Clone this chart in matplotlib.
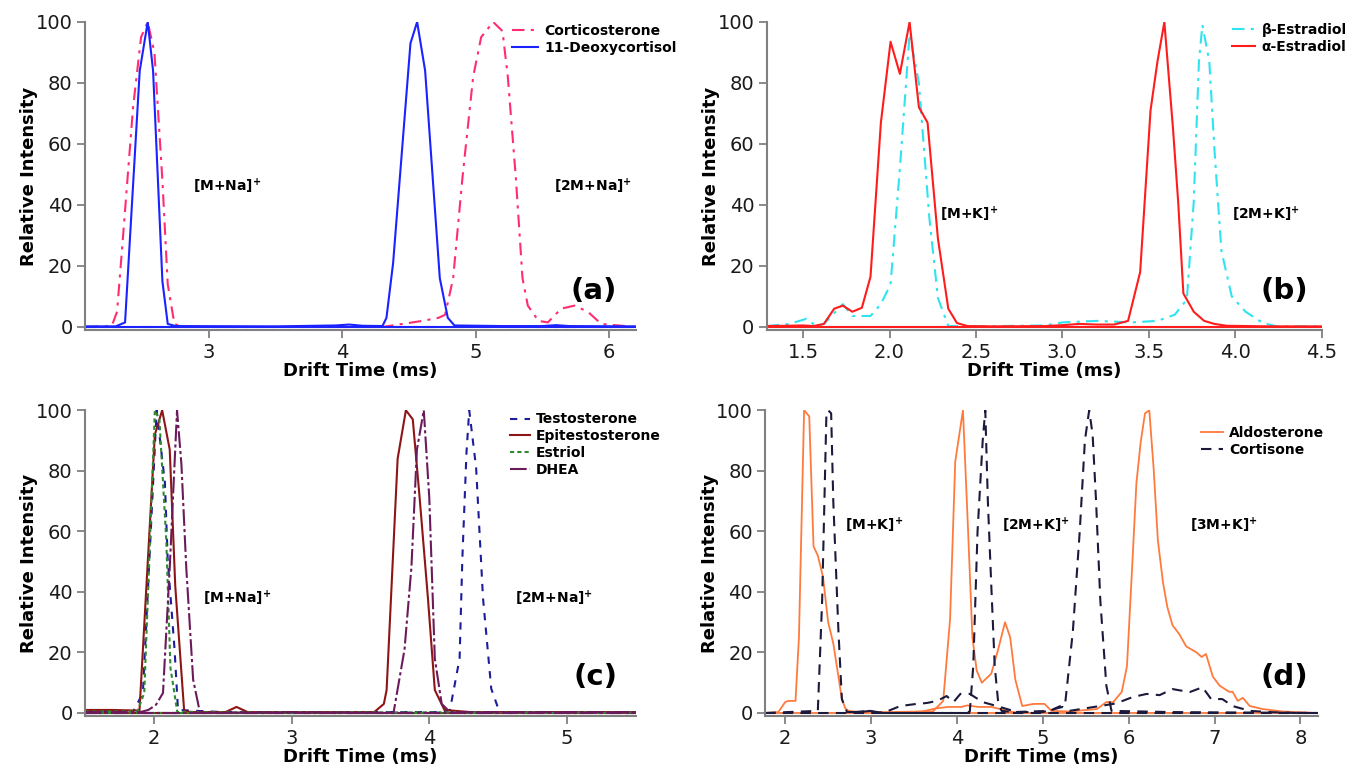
"""Ion mobility drift-time spectra of steroid isomers, four panels."""

import matplotlib
matplotlib.use('Agg')
import matplotlib.pyplot as plt

plt.rcParams['font.family'] = ['DejaVu Sans']
plt.rcParams['mathtext.fontset'] = 'dejavusans'

# ---------------- panel (a) ----------------
cortico_t = [2.08, 2.27, 2.31, 2.35, 2.43, 2.49, 2.54, 2.59, 2.65, 2.69, 2.74, 2.80, 3.5, 4.30, 4.45,
             4.60, 4.72, 4.77, 4.83, 4.90, 4.98, 5.04, 5.13, 5.20, 5.24, 5.30, 5.35, 5.39, 5.47, 5.54,
             5.64, 5.74, 5.84, 5.94, 6.2]
cortico_i = [0, 0.3, 5, 27, 72, 95, 100, 90, 48, 14, 1, 0, 0, 0, 1,
             2, 3, 4, 16, 49, 82, 95, 100, 97, 82, 49, 16, 7, 2, 1.5,
             6, 7, 5, 1, 0]
deoxy_t = [2.08, 2.30, 2.37, 2.48, 2.54, 2.58, 2.65, 2.69, 2.75, 3.5, 3.95, 4.05, 4.15, 4.30, 4.33,
           4.38, 4.51, 4.56, 4.62, 4.73, 4.79, 4.84, 5.2, 5.5, 5.6, 5.7, 6.2]
deoxy_i = [0.2, 0.2, 1.5, 84, 100, 84, 15, 1, 0.3, 0.2, 0.5, 0.8, 0.4, 0.3, 3,
           21, 93, 100, 84, 16, 3, 0.5, 0.3, 0.3, 0.6, 0.3, 0.2]

# ---------------- panel (b) ----------------
beta_t = [1.29, 1.42, 1.52, 1.575, 1.62, 1.73, 1.785, 1.89, 1.95, 2.006, 2.06, 2.116, 2.17, 2.23, 2.28,
          2.34, 2.5, 2.9, 3.0, 3.2, 3.4, 3.55, 3.65, 3.72, 3.76, 3.79, 3.81, 3.85, 3.88, 3.92,
          3.98, 4.06, 4.16, 4.24, 4.5]
beta_i = [0.3, 1, 2.7, 0.3, 1, 7.5, 3.6, 3.6, 7.5, 14, 52, 96, 80, 36, 9.5,
          0.3, 0.2, 0.5, 1.5, 2, 1.5, 2, 4, 9, 41, 87, 99, 87, 58, 25,
          10, 5, 1.3, 0.2, 0.2]
alpha_t = [1.29, 1.50, 1.56, 1.62, 1.68, 1.73, 1.785, 1.84, 1.89, 1.95, 2.006, 2.06, 2.116, 2.17, 2.22,
           2.28, 2.34, 2.39, 2.45, 2.6, 2.9, 3.0, 3.1, 3.2, 3.3, 3.38, 3.45, 3.51, 3.55, 3.59,
           3.64, 3.67, 3.70, 3.76, 3.82, 3.88, 3.95, 4.2, 4.5]
alpha_i = [0.3, 0.5, 0.3, 1, 6, 7, 5, 6.3, 16.5, 67, 93.5, 83, 100, 72, 67,
           29, 6, 1.3, 0.3, 0.2, 0.3, 0.6, 1, 0.8, 0.8, 2, 18, 71, 87, 100,
           65, 41, 11, 5, 2, 1, 0.4, 0.2, 0.2]

# ---------------- panel (c) ----------------
testo_t = [1.5, 1.85, 1.92, 2.02, 2.08, 2.10, 2.15, 2.175, 2.5, 3.5, 4.10, 4.15, 4.22, 4.24, 4.27,
           4.29, 4.34, 4.39, 4.45, 4.51, 5.5]
testo_i = [0.5, 0.5, 6.6, 100, 76, 51, 21, 1, 0.3, 0.3, 0.3, 1, 18, 51, 86,
           100, 81, 38, 8, 0.3, 0.3]
epi_t = [1.5, 1.7, 1.88, 1.895, 2.007, 2.06, 2.115, 2.155, 2.22, 2.3, 2.52, 2.60, 2.68, 3.0, 3.6,
         3.67, 3.69, 3.77, 3.83, 3.88, 3.93, 3.99, 4.04, 4.11, 4.3, 5.5]
epi_i = [1, 1, 0.8, 0.5, 92, 100, 87, 42, 0.5, 0.3, 0.3, 2, 0.3, 0.3, 0.3,
         3, 7.6, 84, 100, 97, 71, 38, 7.6, 1, 0.3, 0.3]
estriol_t = [1.5, 1.88, 1.93, 2.007, 2.04, 2.09, 2.12, 2.17, 2.5, 5.5]
estriol_i = [0.5, 0.5, 6.6, 100, 97, 57, 15, 0.3, 0.2, 0.2]
dhea_t = [1.5, 1.9, 1.96, 2.015, 2.066, 2.115, 2.168, 2.20, 2.235, 2.285, 2.335, 3.0, 3.74, 3.82, 3.87,
          3.91, 3.96, 4.00, 4.04, 4.09, 4.15, 5.5]
dhea_i = [0.3, 0.3, 1, 2.7, 6.6, 48, 100, 82, 48, 11, 0, 0.3, 0, 21, 48,
          87, 100, 71, 18, 3, 0.3, 0.3]

# ---------------- panel (d) ----------------
aldo_t = [1.77, 1.92, 2.0, 2.035, 2.12, 2.16, 2.22, 2.28, 2.33, 2.38, 2.44, 2.50, 2.56, 2.66, 2.70,
          2.74, 2.85, 3.2, 3.6, 3.72, 3.84, 3.92, 3.98, 4.07, 4.13, 4.18, 4.23, 4.29, 4.40, 4.48,
          4.56, 4.62, 4.68, 4.76, 4.89, 5.02, 5.10, 5.31, 5.63, 5.74, 5.82, 5.92, 5.98, 6.04, 6.09,
          6.14, 6.19, 6.24, 6.29, 6.34, 6.40, 6.45, 6.51, 6.59, 6.67, 6.79, 6.85, 6.90, 6.98, 7.06,
          7.17, 7.21, 7.27, 7.33, 7.41, 7.56, 7.79, 8.19]
aldo_i = [0, 0.3, 3.6, 4, 4, 25, 100, 98, 55, 52, 45, 30, 23, 4.6, 1.5,
          0.7, 0.3, 0.3, 0.5, 0.5, 4, 31, 83, 100, 60, 25, 14, 10, 13, 21,
          30, 25, 11, 2.3, 3, 3, 0.7, 0.5, 1.3, 3.6, 3.6, 7, 15.5, 48, 76,
          89.5, 99, 100, 81, 57, 43, 35, 29, 26, 22, 20, 18.5, 19.5, 12, 9,
          7, 7, 4, 5, 2.3, 1.3, 0.5, 0]
aldo_low_t = [3.3, 3.6, 3.75, 3.9, 4.05, 4.12, 4.25, 4.40, 4.55, 4.65, 4.8]
aldo_low_i = [0, 0.5, 1.5, 2, 2, 2.5, 2, 2, 1, 0.3, 0]
cort_t = [1.77, 2.38, 2.43, 2.48, 2.50, 2.535, 2.56, 2.62, 2.66, 2.72, 2.87, 2.99, 3.14, 3.6, 4.10,
          4.15, 4.19, 4.24, 4.30, 4.33, 4.36, 4.40, 4.44, 4.48, 4.52, 4.65, 5.08, 5.26, 5.35, 5.43,
          5.49, 5.54, 5.58, 5.62, 5.67, 5.74, 5.80, 6.5, 8.2]
cort_i = [0, 0.7, 37, 99, 100, 99, 70, 27, 4.6, 0.3, 0.3, 0.7, 0, 0, 0,
          0.5, 15.5, 60, 90, 100, 70, 42, 15.5, 3.6, 0.7, 0.3, 0.7, 3, 27, 60,
          90, 100, 92, 70, 37, 9, 0.7, 0.3, 0]
cort_low_t = [2.8, 2.99, 3.14, 3.34, 3.53, 3.65, 3.77, 3.88, 3.96, 4.04, 4.15, 4.30, 4.50, 4.70, 5.0,
              5.23, 5.31, 5.82, 5.93, 6.05, 6.21, 6.36, 6.51, 6.71, 6.86, 6.96, 7.09, 7.21, 7.41, 7.64,
              7.95, 8.2]
cort_low_i = [0.3, 0.7, 0, 2.3, 3, 3.3, 4, 5.6, 3.6, 6.3, 6.3, 3.6, 2, 0.3, 0.3,
              2, 0.7, 3, 4, 5.3, 6.3, 5.9, 7.9, 6.9, 8.5, 4.6, 4.6, 2.3, 0.7, 0.3,
              0, 0]

Y_TICKS = [0, 20, 40, 60, 80, 100]
SPINE = '#808080'


def style_axes(ax, xlim, xticks, xticklabels=None):
    ax.set_xlim(*xlim)
    ax.set_ylim(-1, 100)
    ax.set_xticks(xticks)
    if xticklabels is not None:
        ax.set_xticklabels(xticklabels)
    ax.set_yticks(Y_TICKS)
    for side in ('top', 'right'):
        ax.spines[side].set_visible(False)
    for side in ('left', 'bottom'):
        ax.spines[side].set_color(SPINE)
        ax.spines[side].set_linewidth(1.5)
    ax.tick_params(direction='out', length=6, width=1.3, color=SPINE, labelsize=14,
                   labelcolor='#1a1a1a', pad=3)
    ax.set_xlabel('Drift Time (ms)', fontsize=13, fontweight='bold', labelpad=0)
    ax.set_ylabel('Relative Intensity', fontsize=13, fontweight='bold')
    ax.yaxis.set_label_coords(-0.085, 0.5)


def trace(ax, t, i, color, lw=1.5, dashes=None, label=None):
    kw = dict(color=color, lw=lw, label=label)
    if dashes is not None:
        kw['dashes'] = dashes
    ax.plot(t, i, **kw)
    base = dict(color=color, lw=lw)
    if dashes is not None:
        base['dashes'] = dashes
    ax.axhline(0, **base)


def ion(ax, x, y, name):
    ax.text(x, y, name + r'$^{\mathbf{+}}$', fontsize=10, fontweight='bold', ha='left', va='center')


def panel_tag(ax, tag, x):
    ax.text(x, 0.127, tag, transform=ax.transAxes, fontsize=21, fontweight='bold',
            ha='right', va='center')


def legend(ax, anchor, hl):
    ax.legend(loc='upper left', bbox_to_anchor=anchor, frameon=False, borderpad=0,
              borderaxespad=0, handlelength=hl, handletextpad=0.45, labelspacing=0.2,
              prop={'weight': 'bold', 'size': 10})


fig = plt.figure(figsize=(13.5, 7.76), dpi=100)
ax_a = fig.add_axes([0.063, 0.5747, 0.408, 0.397])
ax_b = fig.add_axes([0.568, 0.5747, 0.411, 0.397])
ax_c = fig.add_axes([0.063, 0.0773, 0.408, 0.394])
ax_d = fig.add_axes([0.567, 0.0773, 0.409, 0.394])

# (a)
trace(ax_a, cortico_t, cortico_i, '#ff2d6f', dashes=(6, 3, 1.5, 3), label='Corticosterone')
trace(ax_a, deoxy_t, deoxy_i, '#1a22ff', label='11-Deoxycortisol')
style_axes(ax_a, (2.07, 6.2), [3, 4, 5, 6])
ion(ax_a, 2.88, 46, '[M+Na]')
ion(ax_a, 5.59, 46, '[2M+Na]')
panel_tag(ax_a, '(a)', 0.966)
legend(ax_a, (0.775, 0.994), 1.9)

# (b)
trace(ax_b, beta_t, beta_i, '#2fe3ef', dashes=(6, 3, 1.5, 3), label='β-Estradiol')
trace(ax_b, alpha_t, alpha_i, '#ff1c1c', label='α-Estradiol')
style_axes(ax_b, (1.29, 4.5), [1.5, 2.0, 2.5, 3.0, 3.5, 4.0, 4.5],
           ['1.5', '2.0', '2.5', '3.0', '3.5', '4.0', '4.5'])
ion(ax_b, 2.29, 37, '[M+K]')
ion(ax_b, 3.98, 37, '[2M+K]')
panel_tag(ax_b, '(b)', 0.976)
legend(ax_b, (0.838, 0.997), 1.7)

# (c)
trace(ax_c, testo_t, testo_i, '#1c1c9c', dashes=(3.5, 3.5), label='Testosterone')
trace(ax_c, epi_t, epi_i, '#8e1515', label='Epitestosterone')
trace(ax_c, estriol_t, estriol_i, '#2f8a2f', dashes=(2, 1.5), label='Estriol')
trace(ax_c, dhea_t, dhea_i, '#6b1b5c', dashes=(8, 1.5, 1.5, 1.5), label='DHEA')
style_axes(ax_c, (1.5, 5.5), [2, 3, 4, 5])
ion(ax_c, 2.36, 38, '[M+Na]')
ion(ax_c, 4.62, 38, '[2M+Na]')
panel_tag(ax_c, '(c)', 0.967)
legend(ax_c, (0.771, 0.993), 1.45)

# (d)
trace(ax_d, aldo_t, aldo_i, '#ff7a3d', lw=1.3, label='Aldosterone')
ax_d.plot(aldo_low_t, aldo_low_i, color='#ff7a3d', lw=1.3)
trace(ax_d, cort_t, cort_i, '#1b1a3d', dashes=(5, 3.5), label='Cortisone')
ax_d.plot(cort_low_t, cort_low_i, color='#1b1a3d', lw=1.5, dashes=(5, 3.5))
style_axes(ax_d, (1.77, 8.2), [2, 3, 4, 5, 6, 7, 8])
ion(ax_d, 2.70, 62, '[M+K]')
ion(ax_d, 4.53, 62, '[2M+K]')
ion(ax_d, 6.71, 62, '[3M+K]')
panel_tag(ax_d, '(d)', 0.982)
legend(ax_d, (0.788, 0.948), 1.6)

fig.savefig('out.png', dpi=100)
